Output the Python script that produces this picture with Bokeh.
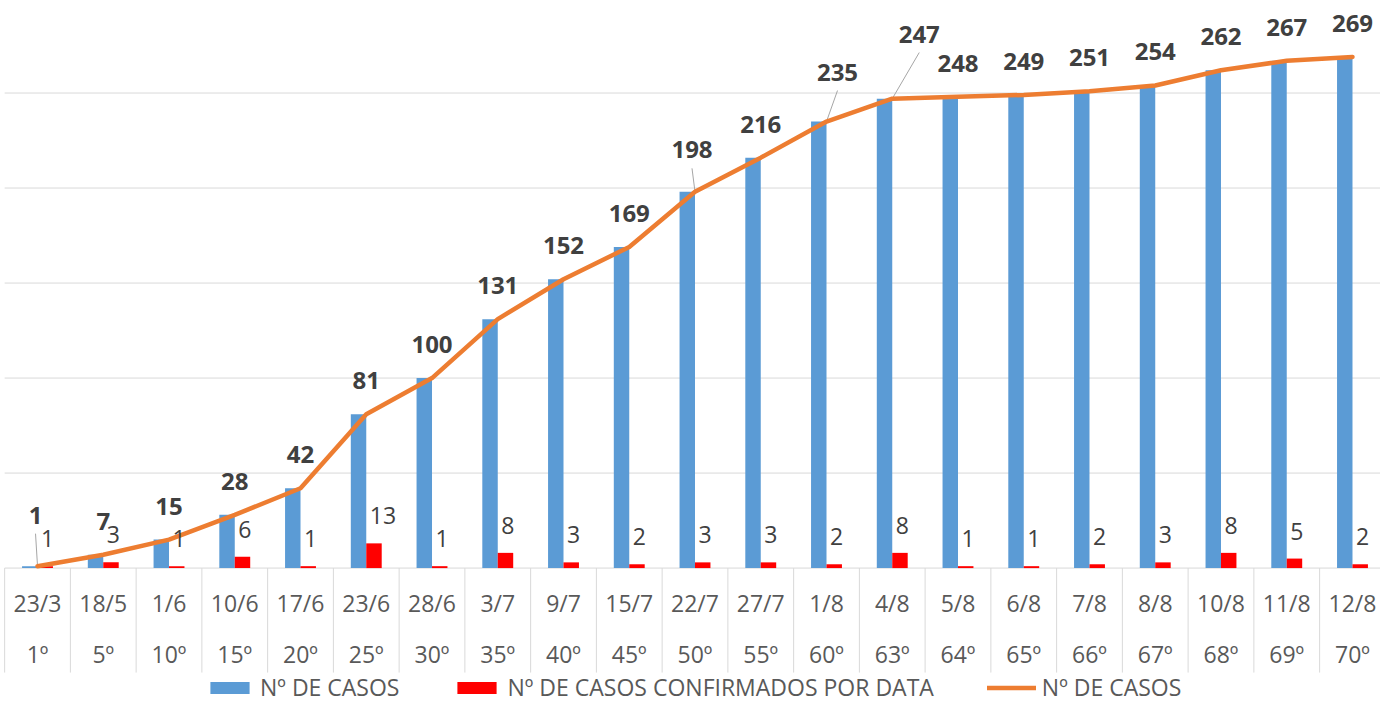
from bokeh.plotting import figure
from bokeh.models import ColumnDataSource, Range1d, Legend, LegendItem
from bokeh.core.properties import value
from bokeh.embed import file_html
from bokeh.resources import INLINE

# ---------------- data ----------------
dates = ["23/3", "18/5", "1/6", "10/6", "17/6", "23/6", "28/6", "3/7", "9/7", "15/7", "22/7",
         "27/7", "1/8", "4/8", "5/8", "6/8", "7/8", "8/8", "10/8", "11/8", "12/8"]
days = ["1º", "5º", "10º", "15º", "20º", "25º", "30º", "35º", "40º", "45º", "50º",
        "55º", "60º", "63º", "64º", "65º", "66º", "67º", "68º", "69º", "70º"]
cumulative = [1, 7, 15, 28, 42, 81, 100, 131, 152, 169, 198, 216, 235, 247, 248, 249, 251, 254, 262, 267, 269]
daily = [1, 3, 1, 6, 1, 13, 1, 8, 3, 2, 3, 3, 2, 8, 1, 1, 2, 3, 8, 5, 2]
grid_values = [0, 50, 100, 150, 200, 250]
series_name = "Nº DE CASOS"
daily_name = "Nº DE CASOS CONFIRMADOS POR DATA"

# ---------------- layout / style ----------------
W, H = 1380, 704
X0, X1 = -0.563, 20.426
Y0, Y1 = -71.8, 298.7
PXX = W / (X1 - X0)
PXY = H / (Y1 - Y0)
BAR_W = 0.235
BLUE, RED, ORANGE = "#5B9BD5", "#FF0000", "#ED7D31"
GRID = "#D9D9D9"
FONT = value("Open Sans")

n = len(dates)
idx = list(range(n))

# label nudges in pixels (dx, up) for the cumulative labels
default_nudge = (0, 33.5)
nudges = {0: (-2, 51), 10: (-3, 42), 12: (11, 49.5), 13: (27, 64.7)}
lab_dx = [nudges.get(i, default_nudge)[0] for i in idx]
lab_dy = [-nudges.get(i, default_nudge)[1] for i in idx]

src = ColumnDataSource(dict(
    x=idx,
    xb=[i - BAR_W / 2 for i in idx],
    xr=[i + BAR_W / 2 for i in idx],
    cum=cumulative,
    daily=daily,
    cum_txt=[str(v) for v in cumulative],
    daily_txt=[str(v) for v in daily],
    dx=lab_dx,
    dy=lab_dy,
    dates=dates,
    days=days,
))

p = figure(width=W, height=H, x_range=Range1d(X0, X1), y_range=Range1d(Y0, Y1),
           x_axis_type=None, y_axis_type=None, output_backend="svg",
           toolbar_location=None, min_border=0)
p.grid.visible = False
p.outline_line_color = None
p.background_fill_color = "white"
p.border_fill_color = "white"

# gridlines (limited to the category area)
p.segment(x0=[-0.5] * len(grid_values), x1=[n - 0.5] * len(grid_values),
          y0=grid_values, y1=grid_values, line_color=GRID, line_width=1)

# category table separators
bounds = [i - 0.5 for i in range(n + 1)]
p.segment(x0=bounds, x1=bounds, y0=[0] * len(bounds), y1=[-55] * len(bounds),
          line_color=GRID, line_width=1)

# bars
rb = p.vbar(x="xb", top="cum", width=BAR_W, source=src, fill_color=BLUE, line_color=None)
rr = p.vbar(x="xr", top="daily", width=BAR_W, source=src, fill_color=RED, line_color=None)

# leader lines for moved labels
lx0, ly0, lx1, ly1 = [], [], [], []
for i, (dx, up) in nudges.items():
    lx0.append(i + dx / PXX)
    ly0.append(cumulative[i] + (up - 18.5) / PXY)
    lx1.append(i)
    ly1.append(cumulative[i])
p.segment(x0=lx0, y0=ly0, x1=lx1, y1=ly1, line_color="#A6A6A6", line_width=1)

# line
rl = p.line(x="x", y="cum", source=src, line_color=ORANGE, line_width=4.5,
            line_cap="round", line_join="round")

# labels
p.text(x="x", y="cum", text="cum_txt", source=src, x_offset="dx", y_offset="dy",
       text_align="center", text_baseline="middle", text_font=FONT,
       text_font_size="24px", text_font_style="bold", text_color="#404040")
p.text(x="x", y="daily", text="daily_txt", source=src, x_offset=3.5, y_offset=-27.5,
       text_align="left", text_baseline="middle", text_font=FONT,
       text_font_size="23px", text_color="#404040")

# category labels
p.text(x="x", y=-18.4, text="dates", source=src, text_align="center", text_baseline="middle",
       text_font=FONT, text_font_size="23px", text_color="#595959")
p.text(x="x", y=-45.3, text="days", source=src, text_align="center", text_baseline="middle",
       text_font=FONT, text_font_size="23px", text_color="#595959")

legend = Legend(items=[LegendItem(label=series_name, renderers=[rb]),
                       LegendItem(label=daily_name, renderers=[rr]),
                       LegendItem(label=series_name, renderers=[rl])],
                orientation="horizontal", location=(205, 1),
                glyph_width=49, glyph_height=15, spacing=53, label_standoff=6,
                padding=0, margin=0, border_line_color=None, background_fill_alpha=0,
                label_text_font="Open Sans", label_text_font_size="23px",
                label_text_color="#595959", label_height=15)
p.add_layout(legend)

open("out.html", "w").write(file_html(p, INLINE))
